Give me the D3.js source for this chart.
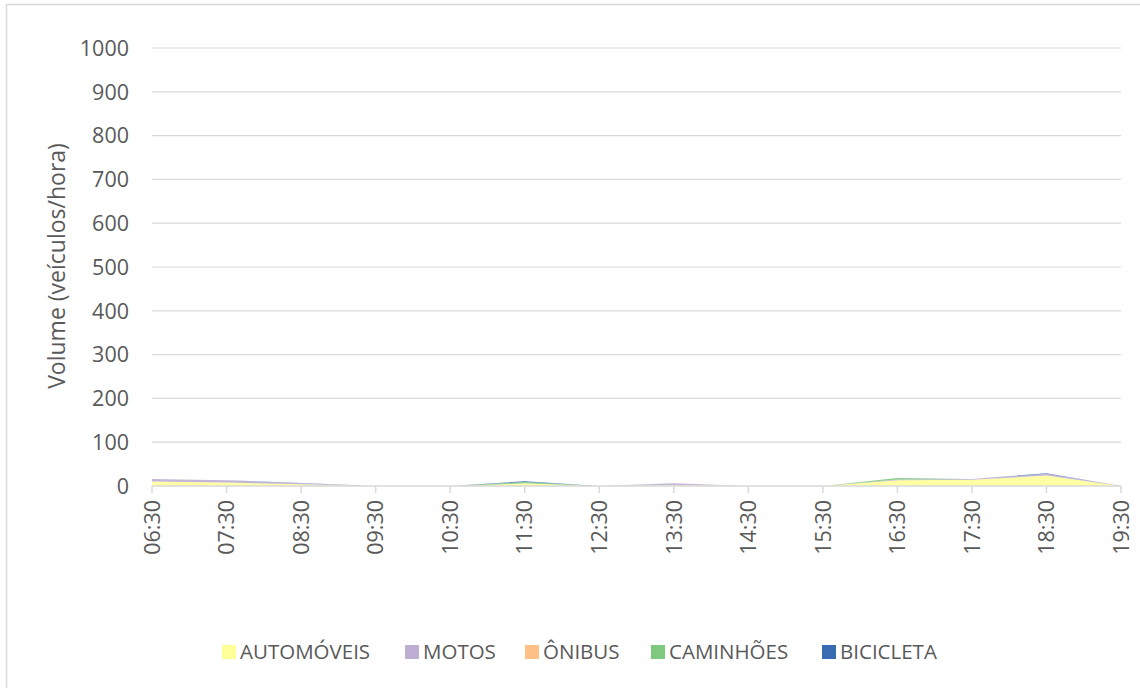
<!DOCTYPE html>
<html><head><meta charset="utf-8">
<script src="https://cdn.jsdelivr.net/npm/d3@7"></script>
<style>
body{margin:0;background:#fff;}
svg{display:block;font-family:"Open Sans",Lato,sans-serif;}
</style></head>
<body>
<svg id="chart" width="1140" height="688"></svg>
<script>
const categories = ["06:30","07:30","08:30","09:30","10:30","11:30","12:30","13:30","14:30","15:30","16:30","17:30","18:30","19:30"];
const automoveis = [10, 8, 4, 0, 0, 6, 0, 2, 0, 0, 13, 14, 24, 0];
const motos      = [6, 5, 2, 0, 0, 0, 0, 4, 0, 0, 2, 2, 4, 0];
const onibus     = [0, 0, 0, 0, 0, 0, 0, 0, 0, 0, 0, 0, 0, 0];
const caminhoes  = [0, 0, 0, 0, 0, 3, 0, 0, 0, 0, 3, 0, 0, 0];
const bicicleta  = [0, 0, 1, 0, 0, 2, 0, 0, 0, 0, 0, 0, 1, 0];
const seriesNames = ["AUTOMÓVEIS","MOTOS","ÔNIBUS","CAMINHÕES","BICICLETA"];
const seriesColors = ["#FFFF99","#BEAED4","#FDC086","#7FC97F","#386CB0"];
const yTicks = [0,100,200,300,400,500,600,700,800,900,1000];

const svg = d3.select("#chart");
const pLeft = 152, pRight = 1121, pTop = 48, pBottom = 486;

svg.append("rect").attr("x",6.5).attr("y",4.5).attr("width",1140).attr("height",700)
  .attr("fill","#fff").attr("stroke","#d9d9d9").attr("stroke-width",1.5);

const x = d3.scalePoint().domain(categories).range([pLeft,pRight]);
const y = d3.scaleLinear().domain([0,1000]).range([pBottom,pTop]);

// gridlines
svg.append("g").selectAll("line").data(yTicks.filter(d=>d>0)).join("line")
  .attr("x1",pLeft).attr("x2",pRight).attr("y1",d=>y(d)).attr("y2",d=>y(d))
  .attr("stroke","#d9d9d9").attr("stroke-width",1.2);

// y labels
svg.append("g").selectAll("text").data(yTicks).join("text")
  .attr("x",129).attr("y",d=>y(d)).attr("dy","0.36em").attr("text-anchor","end")
  .attr("font-size",21.5).attr("fill","#595959").text(d=>d);

// stacked areas
const rows = categories.map((c,i)=>({cat:c, "AUTOMÓVEIS":automoveis[i], "MOTOS":motos[i], "ÔNIBUS":onibus[i], "CAMINHÕES":caminhoes[i], "BICICLETA":bicicleta[i]}));
const stacked = d3.stack().keys(seriesNames)(rows);
const area = d3.area().x(d=>x(d.data.cat)).y0(d=>y(d[0])).y1(d=>y(d[1]));
svg.append("g").selectAll("path").data(stacked).join("path")
  .attr("d",area).attr("fill",(d,i)=>seriesColors[i]).attr("opacity",0.9);

// x axis line and ticks
svg.append("line").attr("x1",pLeft).attr("x2",pRight).attr("y1",pBottom).attr("y2",pBottom)
  .attr("stroke","#d9d9d9").attr("stroke-width",1.5);
svg.append("g").selectAll("line").data(categories).join("line")
  .attr("x1",d=>x(d)).attr("x2",d=>x(d)).attr("y1",pBottom).attr("y2",pBottom+7)
  .attr("stroke","#d9d9d9").attr("stroke-width",1.5);

// x labels rotated
svg.append("g").selectAll("text").data(categories).join("text")
  .attr("transform",d=>`translate(${x(d)},${pBottom+14}) rotate(-90)`)
  .attr("dy","0.36em").attr("text-anchor","end")
  .attr("font-size",21.5).attr("fill","#595959").text(d=>d);

// y title
svg.append("text").attr("transform","translate(57,266) rotate(-90)")
  .attr("dy","0.36em").attr("text-anchor","middle")
  .attr("font-size",23).attr("fill","#595959").text("Volume (veículos/hora)");

// legend
const legendX = [222, 405, 525, 651, 822];
const lg = svg.append("g").selectAll("g").data(seriesNames).join("g")
  .attr("transform",(d,i)=>`translate(${legendX[i]},652)`);
lg.append("rect").attr("x",0).attr("y",-7).attr("width",14).attr("height",14)
  .attr("fill",(d,i)=>seriesColors[i]);
lg.append("text").attr("x",18).attr("y",0).attr("dy","0.36em")
  .attr("font-size",20.5).attr("fill","#595959").text(d=>d);
</script>
</body></html>
